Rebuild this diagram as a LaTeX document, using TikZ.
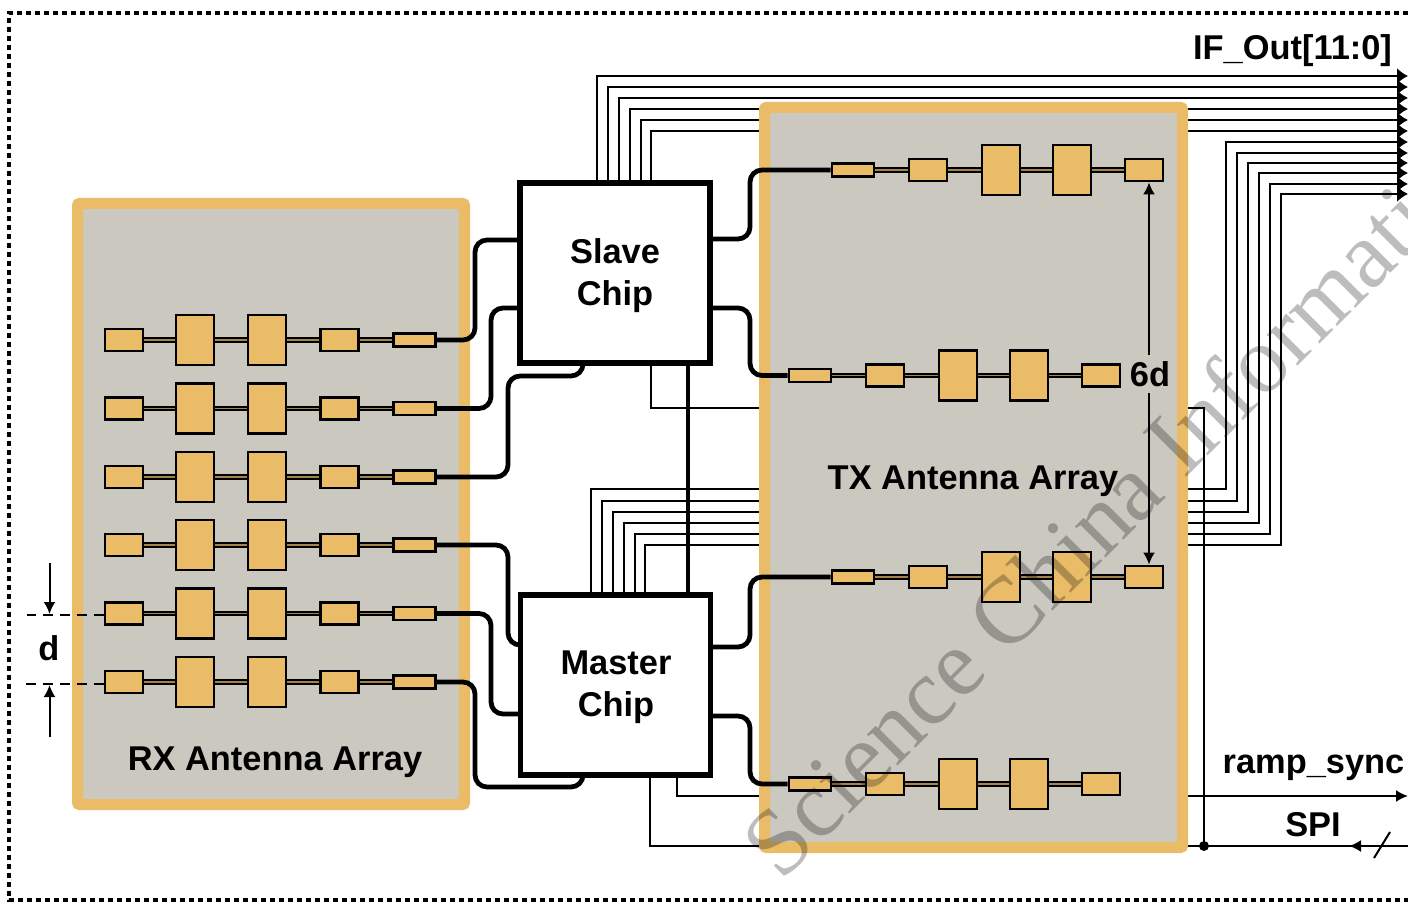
\documentclass[tikz,border=0pt]{standalone}
\usepackage{fontspec}
\usetikzlibrary{arrows.meta}
\setmainfont{Liberation Sans}
\newfontfamily\markfont{Liberation Serif}
\definecolor{patchgold}{HTML}{EABC67}
\definecolor{panelgray}{HTML}{CBC8C0}
\newcommand{\labelfont}{\fontsize{17.2}{21}\selectfont\bfseries}
\tikzset{
    panel/.style={draw=patchgold,fill=panelgray,line width=5.5pt,rounded corners=1pt},
    chip/.style={draw,fill=white,line width=2.7pt,minimum width=95pt,minimum height=90pt,inner sep=0pt},
    patch/.style={draw,fill=patchgold,line width=1.4pt,inner sep=0pt,minimum width=#1,minimum height=11pt},
    patch/.default=19pt,
    bigpatch/.style={patch,minimum height=25pt},
    feedpatch/.style={patch=21pt,minimum height=6.5pt},
    wire/.style={line width=2.4pt,rounded corners=6pt},
    bus/.style={line width=1pt},
    tip/.style={-{Latex[length=6pt,width=6pt]}},
    busend/.style={-{Latex[length=5.5pt,width=8pt]}},
    label/.style={font=\labelfont,inner sep=0pt,align=center}
}
\begin{document}
\begin{tikzpicture}[x=0.5pt,y=-0.5pt]
    \useasboundingbox (0,0) rectangle (1408,903);
    \draw[line width=2pt,dash pattern=on 2.6pt off 1.9pt] (1408,13)--(9,13)--(9,900)--(1408,900);
    % buses out of the slave chip
    \foreach \bx/\by in {597/76,608/87,619/98,630/109,641/120,651/131}{
        \draw[bus,busend] (\bx,183)--(\bx,\by)--(1408,\by);
    }
    % buses out of the master chip
    \foreach \bx/\by/\cy/\cx in {591/489/142/1226,602/501/153/1237,613/512/163/1248,624/523/173/1259,635/534/184/1270,645/545/194/1281}{
        \draw[bus,busend] (\bx,595)--(\bx,\by)--(\cx,\by)--(\cx,\cy)--(1408,\cy);
    }
    % ramp_sync and SPI
    \draw[bus] (651,363)--(651,408)--(1204,408)--(1204,846);
    \draw[bus,tip] (677,775)--(677,796)--(1408,796);
    \draw[bus] (650,775)--(650,846)--(1355,846);
    \draw[bus,tip] (1408,846)--(1349,846);
    \draw[bus] (1374,858)--(1390,832);
    \fill (1204,846) circle (5);
    \node[label] (ifout) at (1292.5,51) {IF\_Out[11:0]};
    \node[label,anchor=base] (ramp) at (1313.5,773) {ramp\_sync};
    \node[label,anchor=base] (spi) at (1313,836) {SPI};
    % panels
    \node[panel,minimum width=193.5pt,minimum height=300.5pt] (rxpanel) at (271,504) {};
    \node[panel,minimum width=209pt,minimum height=370pt] (txpanel) at (973.5,477.5) {};
    % chips
    \node[chip] (slave) at (615,273) {};
    \node[chip] (master) at (615.5,685) {};
    \node[label] (slavetext) at (615,276) {Slave\\Chip};
    \node[label] (mastertext) at (616,687) {Master\\Chip};
    \draw[line width=2.2pt] (slave.south -| 688,0)--(master.north -| 688,0);
    % RX antenna rows
    \foreach \n/\y in {1/340,2/408.5,3/477,4/545,5/613.5,6/682}{
        \node[patch] (rxa\n) at (124,\y) {};
        \node[bigpatch] (rxb\n) at (195,\y) {};
        \node[bigpatch] (rxc\n) at (267,\y) {};
        \node[patch] (rxd\n) at (339.5,\y) {};
        \node[feedpatch] (rxe\n) at (414.5,\y) {};
        \foreach \p/\q in {a/b,b/c,c/d,d/e}{
            \draw[line width=2.6pt] (rx\p\n)--(rx\q\n);
            \draw[line width=0.8pt,patchgold!70!black] (rx\p\n)--(rx\q\n);
        }
    }
    % TX antenna rows
    \foreach \n/\y/\s in {1/170/0,2/375.5/-43,3/577/0,4/784/-43}{
        \node[feedpatch] (txe\n) at (853+\s,\y) {};
        \node[patch] (txd\n) at (928+\s,\y) {};
        \node[bigpatch] (txc\n) at (1001+\s,\y) {};
        \node[bigpatch] (txb\n) at (1072+\s,\y) {};
        \node[patch] (txa\n) at (1144+\s,\y) {};
        \foreach \p/\q in {e/d,d/c,c/b,b/a}{
            \draw[line width=2.6pt] (tx\p\n)--(tx\q\n);
            \draw[line width=0.8pt,patchgold!70!black] (tx\p\n)--(tx\q\n);
        }
    }
    % chip to antenna wires
    \draw[wire] (rxe1.east)--(475,340)--(475,240)--(slave.west |- 0,240);
    \draw[wire] (rxe2.east)--(491,408.5)--(491,308)--(slave.west |- 0,308);
    \draw[wire] (rxe3.east)--(508,477)--(508,376)--(583,376)--(583,363);
    \draw[wire] (rxe4.east)--(508,545)--(508,645)--(master.west |- 0,645);
    \draw[wire] (rxe5.east)--(491,613.5)--(491,714)--(master.west |- 0,714);
    \draw[wire] (rxe6.east)--(475,682)--(475,787)--(583,787)--(583,775);
    \draw[wire] (slave.east |- 0,239)--(750,239)--(750,170)--(txe1.west);
    \draw[wire] (slave.east |- 0,308)--(750,308)--(750,375.5)--(txe2.west);
    \draw[wire] (master.east |- 0,647)--(750,647)--(750,577)--(txe3.west);
    \draw[wire] (master.east |- 0,716)--(750,716)--(750,784)--(txe4.west);
    % spacing marks
    \node[label,minimum height=19pt] (sixd) at (1150,374) {6d};
    \draw[bus,tip] (1149,0 |- sixd.north)--(1149,0 |- txa1.south);
    \draw[bus,tip] (1149,0 |- sixd.south)--(1149,0 |- txa3.north);
    \node[label] (dmark) at (49,648) {d};
    \draw[line width=1.4pt,dash pattern=on 5pt off 3.5pt] (rxa5.west |- 0,615)--(27,615);
    \draw[line width=1.4pt,dash pattern=on 5pt off 3.5pt] (rxa6.west |- 0,684)--(22,684);
    \draw[bus,tip] (49.5,563)--(49.5,614);
    \draw[bus,tip] (49.5,737)--(49.5,685);
    \node[label] (rxlabel) at (275,762) {RX Antenna Array};
    \node[label] (txlabel) at (973,481) {TX Antenna Array};
    % watermark
    \begin{scope}
        \clip (0,0) rectangle (1408,903);
        \node[font=\markfont\fontsize{47.5}{48}\selectfont,text=black,opacity=0.26,rotate=45,anchor=base west,inner sep=0pt] (mark) at (781,883) {Science China Information};
    \end{scope}
\end{tikzpicture}
\end{document}
